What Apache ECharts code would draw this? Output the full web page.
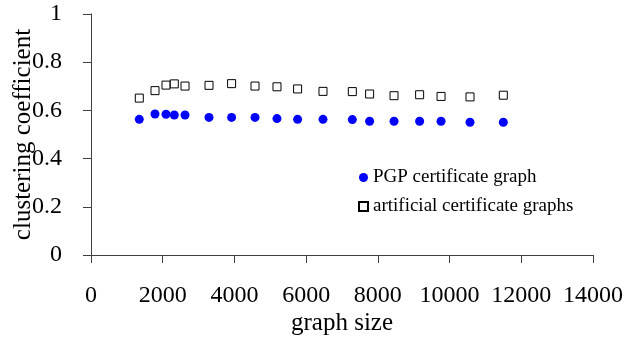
<!DOCTYPE html>
<html>
<head>
<meta charset="utf-8">
<script src="https://cdn.jsdelivr.net/npm/echarts@6/dist/echarts.min.js"></script>
<style>
html,body{margin:0;padding:0;background:#fff;}
#c{width:627px;height:345px;}
</style>
</head>
<body>
<div id="c"></div>
<script>
var graphSizes = [1347, 1785, 2092, 2323, 2622, 3291, 3921, 4574, 5187, 5762, 6470, 7288, 7770, 8451, 9165, 9762, 10570, 11499];
var pgpValues = [0.563, 0.585, 0.584, 0.581, 0.581, 0.571, 0.571, 0.571, 0.566, 0.563, 0.563, 0.562, 0.555, 0.555, 0.555, 0.555, 0.551, 0.551];
var artificialValues = [0.651, 0.682, 0.705, 0.710, 0.701, 0.704, 0.711, 0.701, 0.698, 0.689, 0.679, 0.678, 0.668, 0.661, 0.665, 0.658, 0.656, 0.663];
var seriesNames = ['PGP certificate graph', 'artificial certificate graphs'];

function pairs(xs, ys) { return xs.map(function (x, i) { return [x, ys[i]]; }); }

var font = 'Liberation Serif';
var axisColor = '#404040';
var chart = echarts.init(document.getElementById('c'), null, {renderer: 'canvas'});
chart.setOption({
  animation: false,
  backgroundColor: '#ffffff',
  textStyle: {fontFamily: font, color: '#000'},
  grid: {left: 91, right: 34, top: 14, bottom: 90, containLabel: false},
  legend: {
    orient: 'vertical',
    left: 353,
    top: 163,
    itemWidth: 9,
    itemHeight: 9,
    itemGap: 10,
    textStyle: {fontFamily: font, fontSize: 19, color: '#000'},
    data: [{name: seriesNames[0], icon: 'circle'}, {name: seriesNames[1], icon: 'rect'}]
  },
  xAxis: {
    type: 'value',
    min: 0, max: 14000, interval: 2000,
    name: 'graph size',
    nameLocation: 'middle',
    nameGap: 56,
    nameMoveOverlap: false,
    nameTextStyle: {fontFamily: font, fontSize: 25, color: '#000'},
    axisLine: {show: true, lineStyle: {color: axisColor, width: 1}},
    axisTick: {show: true, length: 8, lineStyle: {color: axisColor}},
    axisLabel: {fontFamily: font, fontSize: 24, color: '#000', margin: 29,
      formatter: function (v) { return String(v); }},
    splitLine: {show: false}
  },
  yAxis: {
    type: 'value',
    min: 0, max: 1, interval: 0.2,
    name: 'clustering coefficient',
    nameLocation: 'middle',
    nameGap: 55,
    nameMoveOverlap: false,
    nameTextStyle: {fontFamily: font, fontSize: 25, color: '#000'},
    axisLine: {show: true, lineStyle: {color: axisColor, width: 1}},
    axisTick: {show: true, length: 8, lineStyle: {color: axisColor}},
    axisLabel: {fontFamily: font, fontSize: 24, color: '#000', margin: 29},
    splitLine: {show: false}
  },
  series: [
    {
      name: seriesNames[0],
      type: 'scatter',
      symbol: 'circle',
      symbolSize: 9,
      itemStyle: {color: '#0000ff', opacity: 1},
      data: pairs(graphSizes, pgpValues)
    },
    {
      name: seriesNames[1],
      type: 'scatter',
      symbol: 'rect',
      symbolSize: 8,
      itemStyle: {color: '#ffffff', borderColor: '#000000', borderWidth: 1, opacity: 1},
      data: pairs(graphSizes, artificialValues)
    }
  ]
});
</script>
</body>
</html>
